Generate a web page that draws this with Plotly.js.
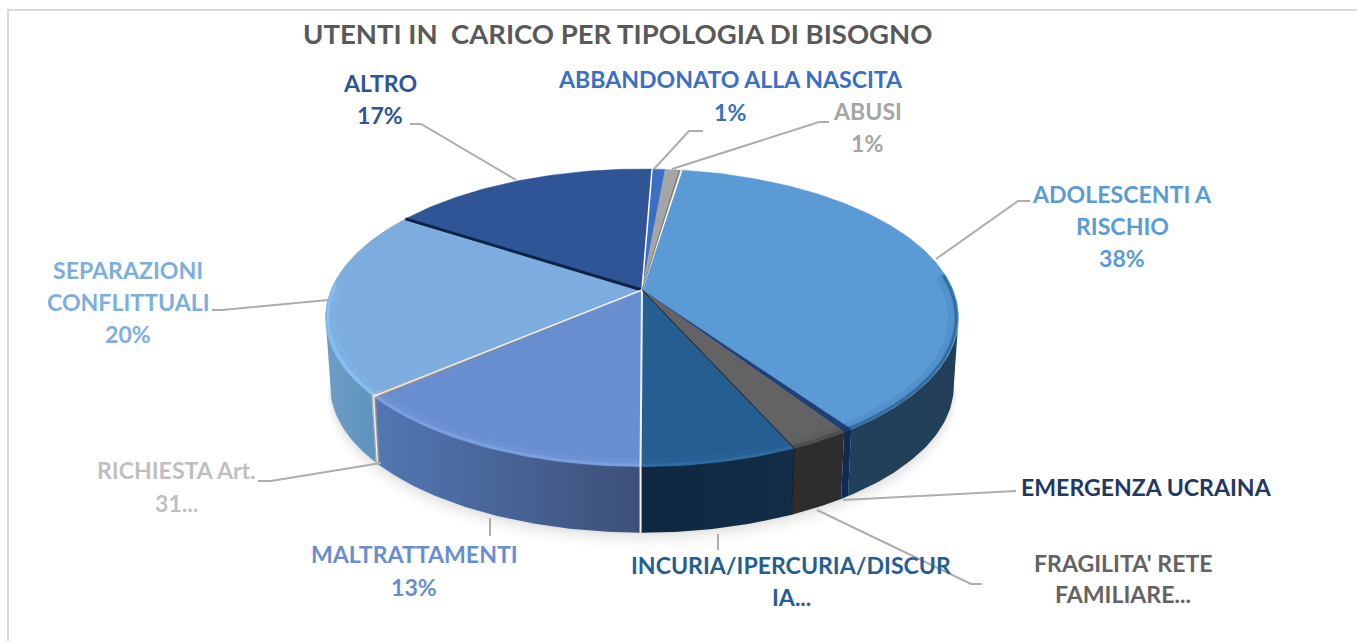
<!DOCTYPE html>
<html><head><meta charset="utf-8">
<script src="https://cdn.plot.ly/plotly-3.0.1.min.js"></script>
<style>html,body{margin:0;padding:0;background:#fff}#c{width:1357px;height:641px}</style></head>
<body><div id="c"></div>
<script>
// ---- data (clockwise from the top of the pie) ----
const categories = ["ABBANDONATO ALLA NASCITA","ABUSI","ADOLESCENTI A RISCHIO","EMERGENZA UCRAINA","FRAGILITA' RETE FAMILIARE","INCURIA/IPERCURIA/DISCURIA","MALTRATTAMENTI","RICHIESTA Art. 31","SEPARAZIONI CONFLITTUALI","ALTRO"];
const values = [0.8,1.0,37.9,0.4,2.6,6.7,13.5,0.3,20.3,16.4];
const titleText = "UTENTI IN\u00a0\u00a0CARICO PER TIPOLOGIA DI BISOGNO";
const topColors = ["#3a6fc4","#a5a5a5","#5b9bd5","#1f3f78","#636363","#255e91","#698ed0","#a8a8a8","#7cadde","#2f5597"];
const wallLeft  = ["#2c5596","#777777","#22405a","#0f2a55","#2d2d2d","#0f2740","#5277b4","#b0b0b0","#6d9dc6","#1f3864"];
const wallRight = ["#2c5596","#777777","#233f57","#0f2a55","#2d2d2d","#132c48","#3d5078","#909090","#5e93bd","#1f3864"];
const rimColors = ["#3a6fc4","#a5a5a5","#2c6596","#17386e","#4a4a4a","#2f6ca6","#7ea2e4","#dddddd","#8ac4f6","#2f5597"];
const rimStart  = [68,68,84,68,68,68,68,68,68,68];
// label rows: text lines per label with the centre position and colour
const labelRows = [
 {lines:["ABBANDONATO ALLA NASCITA","1%"],x:730,y:[79,112],c:"#3a6fc4"},
 {lines:["ABUSI","1%"],x:867,y:[111,143],c:"#a5a5a5"},
 {lines:["ADOLESCENTI A","RISCHIO","38%"],x:1122,y:[194,226,258],c:"#5b9bd5"},
 {lines:["EMERGENZA UCRAINA"],x:1146,y:[487],c:"#1f3864"},
 {lines:["FRAGILITA' RETE","FAMILIARE..."],x:1123,y:[563,594],c:"#636363"},
 {lines:["INCURIA/IPERCURIA/DISCUR","IA..."],x:791,y:[565,597],c:"#255e91"},
 {lines:["MALTRATTAMENTI","13%"],x:414,y:[554,587],c:"#698ed0"},
 {lines:["RICHIESTA Art.","31..."],x:176,y:[470,503],c:"#bfbfbf"},
 {lines:["SEPARAZIONI","CONFLITTUALI","20%"],x:128,y:[270,302,334],c:"#7cafdd"},
 {lines:["ALTRO","17%"],x:380,y:[83,115],c:"#2f5597"}
];
const leaders = [
 "M 654 169 L 689 131 L 703 131",
 "M 672 169 L 819 122 L 829 122",
 "M 936 259 L 1018 201 L 1030 201",
 "M 843 500 L 1016 491",
 "M 817 510 L 971 584 L 982 584",
 "M 718 534 L 718 550",
 "M 490 518 L 490 536",
 "M 381 463 L 271 481 L 258 481",
 "M 328 300 L 222 310 L 212 310",
 "M 516 180 L 421 124 L 410 124"
];
// ---- drawing geometry ----
const cx=642, ay=290, k=0.186, H=143.5, R=311, drop=69, lowScale=0.985, startDeg=2.2;
const rad=d=>d*Math.PI/180;
function proj(deg,dy,s){const v=Math.cos(rad(deg)),w=1+k*v;
  return [cx+s*R*Math.sin(rad(deg))/w, ay+dy-s*H*v/w];}
function arc(a,b,dy,s){const n=Math.max(2,Math.ceil(Math.abs(b-a)))+1,o=[];
  for(let i=0;i<n;i++)o.push(proj(a+(b-a)*i/(n-1),dy,s));return o;}
function poly(pts,extra){return Object.assign({type:'scatter',mode:'lines',x:pts.map(p=>p[0]),y:pts.map(p=>p[1]),
  hoverinfo:'skip',showlegend:false,line:{width:0}},extra);}
const total=values.reduce((a,b)=>a+b,0);
let a=startDeg; const spans=values.map(v=>{const s=[a,a+v/total*360];a=s[1];return s;});
const silR=180-Math.acos(k)*180/Math.PI, silL=360-silR;
const traces=[];
// soft shadow under the pie
[[14,.012,1.012],[11,.014,1.008],[8,.02,1.005],[5,.028,1.002],[2,.035,1.0]].forEach(([d,o,s])=>{
  traces.push(poly(arc(0,360,drop+d,lowScale*s),{fill:'toself',fillcolor:'rgba(0,0,0,'+o+')'}));});
// outer walls
spans.forEach(([s,e],i)=>{
  const p=Math.max(s,silR),q=Math.min(e,silL); if(q<=p)return;
  const pts=arc(p,q,0,1).concat(arc(q,p,drop,lowScale)); pts.push(pts[0]);
  traces.push(poly(pts,{fill:'toself',fillcolor:wallLeft[i],
    fillgradient:{type:'horizontal',colorscale:[[0,wallLeft[i]],[1,wallRight[i]]]}}));
});
// top wedges
spans.forEach(([s,e],i)=>{
  const pts=[[cx,ay]].concat(arc(s,e,0,1)); pts.push([cx,ay]);
  traces.push(poly(pts,{fill:'toself',fillcolor:topColors[i],line:{width:.5,color:topColors[i]}}));
});
// bevel rim on the near edge of each wedge
spans.forEach(([s,e],i)=>{
  const p=Math.max(s,rimStart[i]),q=Math.min(e,272); if(q<=p)return;
  traces.push(poly(arc(p,q,0,0.982),{line:{width:9,color:rimColors[i]},opacity:.18}));
  const pts=arc(p,q,0,0.993);
  traces.push(poly(pts,{line:{width:4,color:rimColors[i]},opacity:.4}));
  traces.push(poly(pts,{line:{width:2,color:rimColors[i]},opacity:.8}));
});
// wedge separators
function sep(deg,color,w){const t=proj(deg,0,1),b=proj(deg,drop,lowScale);
  traces.push(poly([[cx,ay],t],{line:{width:w,color:color}}));
  if(deg>silR&&deg<silL)traces.push(poly([t,b],{line:{width:w,color:color}}));}
sep(spans[9][0],'#0d2347',3);
sep(spans[0][0],'#ffffff',1.5);
sep(spans[1][1],'#ffffff',1.5);
sep(spans[1][1]-.5,'#7f7f7f',1.2);
sep(spans[5][1],'#f2f2f2',2);
sep(spans[4][1],'#1a1a1a',1);
sep(spans[7][0]-.1,'#8c8c8c',1.2);
sep(spans[7][0]+.5,'#f0f0f0',1.4);
const annotations=[{text:'<b>'+titleText+'</b>',x:618,y:33,xref:'x',yref:'y',showarrow:false,xanchor:'center',yanchor:'middle',
  font:{family:'Lato',size:27.5,color:'#595959'}}];
labelRows.forEach(r=>r.lines.forEach((t,j)=>annotations.push({text:'<b>'+t+'</b>',x:r.x,y:r.y[j],xref:'x',yref:'y',
  showarrow:false,xanchor:'center',yanchor:'middle',font:{family:'Lato',size:23.1,color:r.c}})));
const shapes=leaders.map(d=>({type:'path',path:d,xref:'x',yref:'y',line:{color:'#adadad',width:2},layer:'above'}));
shapes.push({type:'path',path:"M 8 641 L 8 10 L 1357 10",xref:'x',yref:'y',line:{color:'#d9d9d9',width:2},layer:'below'});
Plotly.newPlot('c',traces,{width:1357,height:641,margin:{l:0,r:0,t:0,b:0},paper_bgcolor:'#fff',plot_bgcolor:'#fff',
 xaxis:{range:[0,1357],visible:false,fixedrange:true},yaxis:{range:[641,0],visible:false,fixedrange:true},
 annotations,shapes,showlegend:false},{displayModeBar:false,staticPlot:true});
</script></body></html>
